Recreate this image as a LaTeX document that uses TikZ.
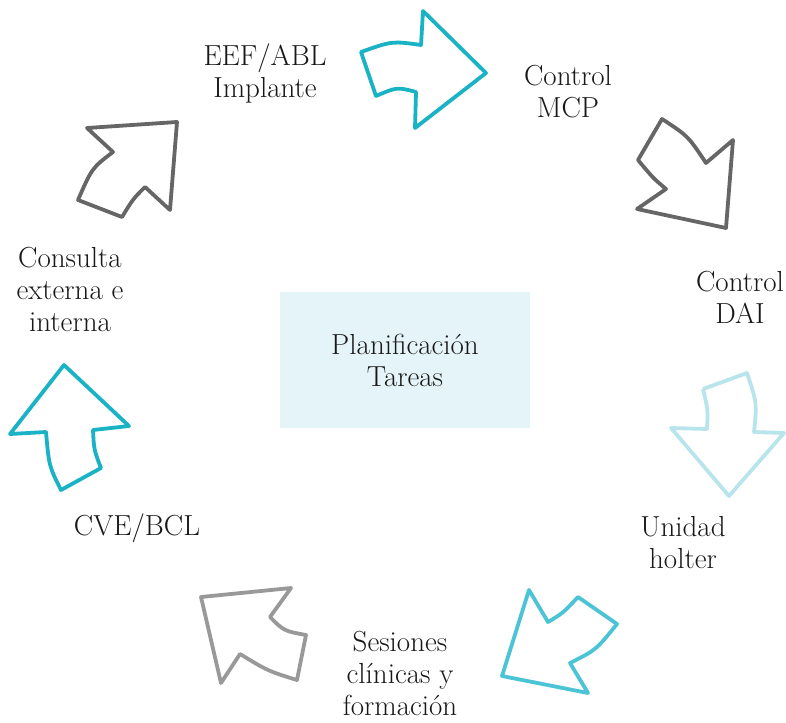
\documentclass[tikz,border=0pt]{standalone}
\usepackage{xcolor}

\definecolor{turq}{HTML}{1AB3C6}
\definecolor{turqmid}{HTML}{4DC4D6}
\definecolor{turqpale}{HTML}{B8E4EC}
\definecolor{greydark}{HTML}{666666}
\definecolor{greymid}{HTML}{999999}
\definecolor{boxfill}{HTML}{E4F4F8}
\definecolor{ink}{HTML}{1A1718}

\begin{document}
\begin{tikzpicture}[
		x=1pt, y=-1pt,
		label/.style={align=center, text=ink, font=\fontsize{29}{32}\selectfont},
		cyclearrow/.style={line width=3.8pt, line join=round}
	]
	\useasboundingbox (0,0) rectangle (786,722);

	% centre box
	\node[label, fill=boxfill, minimum width=250pt, minimum height=136pt] (plan) at (405,360) {Planificación\\Tareas};

	% stages round the cycle
	\node[label] (eef) at (265,73) {EEF/ABL\\Implante};
	\node[label] (mcp) at (568,92) {Control\\MCP};
	\node[label] (dai) at (740,297) {Control\\DAI};
	\node[label] (holter) at (683,543) {Unidad\\holter};
	\node[label] (sesiones) at (400,673) {Sesiones\\clínicas y\\formación};
	\node[label] (cve) at (137,528) {CVE/BCL};
	\node[label] (consulta) at (70,289) {Consulta\\externa e\\interna};

	% bent arrows between the stages
	\draw[cyclearrow, turq] (361,52) .. controls (392,41) .. (421,45) -- (423,11) -- (486,73)
		-- (415,128) -- (416,92) .. controls (397,87) .. (376,96) -- cycle;
	\draw[cyclearrow, greydark] (662,119) .. controls (688,136) .. (706,163) -- (733,140) -- (726,228)
		-- (637,209) -- (666,189) .. controls (653,178) .. (638,160) -- cycle;
	\draw[cyclearrow, turqpale] (703,389) -- (747,373) .. controls (757,403) .. (754,432) -- (784,433)
		-- (729,496) -- (671,428) -- (707,429) .. controls (708,410) .. (703,389);
	\draw[cyclearrow, turqmid] (502,676) -- (529,590) -- (548,622) .. controls (563,613) .. (578,597)
		-- (617,624) .. controls (596,650) .. (570,663) -- (588,693) -- cycle;
	\draw[cyclearrow, greymid] (201,597) -- (291,588) -- (270,617) .. controls (284,631) .. (306,635)
		-- (297,680) .. controls (268,671) .. (240,654) -- (221,683) -- cycle;
	\draw[cyclearrow, turq] (64,365) -- (129,426) -- (93,430) .. controls (94,450) .. (101,468)
		-- (61,490) .. controls (49,466) .. (46,432) -- (10,434) -- cycle;
	\draw[cyclearrow, greydark] (87,128) -- (177,122) -- (170,210) -- (145,187) .. controls (133,199) .. (122,217)
		-- (78,200) .. controls (92,168) .. (113,152) -- cycle;
\end{tikzpicture}
\end{document}
